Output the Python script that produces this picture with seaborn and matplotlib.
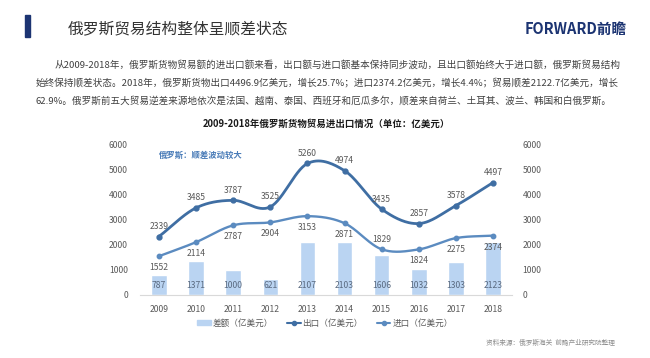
import numpy as np
import pandas as pd
import matplotlib.pyplot as plt
import seaborn as sns
from matplotlib.patches import Patch, Rectangle
from matplotlib.lines import Line2D

# data (亿美元)
years = ["2009", "2010", "2011", "2012", "2013", "2014", "2015", "2016", "2017", "2018"]
export_vals = [2339, 3485, 3787, 3525, 5260, 4974, 3435, 2857, 3578, 4497]
import_vals = [1552, 2114, 2787, 2904, 3153, 2871, 1829, 1824, 2275, 2374]
balance_vals = [787, 1371, 1000, 621, 2107, 2103, 1606, 1032, 1303, 2123]
y_ticks = [0, 1000, 2000, 3000, 4000, 5000, 6000]

header_title = "俄罗斯贸易结构整体呈顺差状态"
para_lines = [
    "从2009-2018年，俄罗斯货物贸易额的进出口额来看，出口额与进口额基本保持同步波动，且出口额始终大于进口额，俄罗斯贸易结构",
    "始终保持顺差状态。2018年，俄罗斯货物出口4496.9亿美元，增长25.7%；进口2374.2亿美元，增长4.4%；贸易顺差2122.7亿美元，增长",
    "62.9%。俄罗斯前五大贸易逆差来源地依次是法国、越南、泰国、西班牙和厄瓜多尔，顺差来自荷兰、土耳其、波兰、韩国和白俄罗斯。",
]
chart_title = "2009-2018年俄罗斯货物贸易进出口情况（单位：亿美元）"
note = "俄罗斯：顺差波动较大"
source = "资料来源：俄罗斯海关  前瞻产业研究院整理"

df = pd.DataFrame({"year": years, "export": export_vals,
                   "import": import_vals, "balance": balance_vals})

sns.set_theme(style="white")
plt.rcParams['font.family'] = ['Noto Sans CJK SC', 'DejaVu Sans']

EXP_C = "#3f6ea3"
IMP_C = "#5b8bc0"
BAR_C = "#bad4f2"
TXT_C = "#595959"


def smooth(vals, n=30):
    # catmull-rom style curve through the points (drawing only)
    y = np.asarray(vals, dtype=float)
    m = np.zeros_like(y)
    m[1:-1] = (y[2:] - y[:-2]) / 2
    m[0] = y[1] - y[0]
    m[-1] = y[-1] - y[-2]
    xs, ys = [], []
    for i in range(len(y) - 1):
        t = np.linspace(0, 1, n, endpoint=False)
        h00 = 2 * t**3 - 3 * t**2 + 1
        h10 = t**3 - 2 * t**2 + t
        h01 = -2 * t**3 + 3 * t**2
        h11 = t**3 - t**2
        xs.append(i + t)
        ys.append(h00 * y[i] + h10 * m[i] + h01 * y[i + 1] + h11 * m[i + 1])
    xs.append([len(y) - 1])
    ys.append([y[-1]])
    return np.concatenate(xs), np.concatenate(ys)


fig = plt.figure(figsize=(6.5, 3.58), dpi=100)
ax = fig.add_axes([0.216, 0.176, 0.571, 0.419])

sns.barplot(data=df, x="year", y="balance", color=BAR_C, width=0.42,
            saturation=1, ax=ax)

xe, ye = smooth(export_vals)
ax.plot(xe, ye, color=EXP_C, lw=2.0, zorder=3)
ax.plot(range(len(years)), export_vals, 'o', color=EXP_C, ms=3.5, zorder=4)
xi, yi = smooth(import_vals)
ax.plot(xi, yi, color=IMP_C, lw=1.7, zorder=3)
ax.plot(range(len(years)), import_vals, 'o', color=IMP_C, ms=3.2, zorder=4)

for i in range(len(years)):
    ax.annotate(str(export_vals[i]), (i, export_vals[i]), xytext=(0, 4),
                textcoords="offset points", ha="center", va="bottom",
                fontsize=6.2, color=TXT_C)
    above = i == 6  # 2015 label sits above its point
    ax.annotate(str(import_vals[i]), (i, import_vals[i]),
                xytext=(0, 4) if above else (0, -5),
                textcoords="offset points", ha="center",
                va="bottom" if above else "top", fontsize=6.2, color=TXT_C)
    ax.text(i, 360, str(balance_vals[i]), ha="center", va="center",
            fontsize=6.2, color="#5a6a80")

ax.set_xlim(-0.5, len(years) - 0.5)
ax.set_ylim(0, 6000)
ax.set_yticks(y_ticks)
ax.set_xlabel("")
ax.set_ylabel("")
ax.tick_params(axis="both", length=0, labelsize=6.2, labelcolor=TXT_C)
ax.tick_params(axis="y", pad=9)
ax.tick_params(axis="x", pad=7)
for s in ["top", "right", "left"]:
    ax.spines[s].set_visible(False)
ax.spines["bottom"].set_color("#d9d9d9")
ax.spines["bottom"].set_linewidth(0.8)

ax2 = ax.twinx()
ax2.set_ylim(0, 6000)
ax2.set_yticks(y_ticks)
ax2.tick_params(axis="y", length=0, labelsize=6.2, labelcolor=TXT_C, pad=8)
for s in ax2.spines.values():
    s.set_visible(False)
ax2.grid(False)

ax.text(0.05, 0.93, note, transform=ax.transAxes, fontsize=6, color="#4a7cb8",
        fontweight="bold", va="center")

fig.text(326 / 650, 1 - 124 / 358, chart_title, ha="center", va="center",
         fontsize=6.8, fontweight="bold", color="#1a1a1a")

handles = [Patch(color=BAR_C),
           Line2D([], [], color=EXP_C, lw=1.5, marker="o", ms=3),
           Line2D([], [], color=IMP_C, lw=1.5, marker="o", ms=3)]
labels = ["差额（亿美元）", "出口（亿美元）", "进口（亿美元）"]
fig.legend(handles, labels, loc="center", bbox_to_anchor=(325 / 650, 1 - 323 / 358),
           ncol=3, frameon=False, fontsize=6.2, labelcolor=TXT_C,
           handlelength=1.6, handleheight=0.5, handletextpad=0.2, columnspacing=1.6)

fig.text(615 / 650, 1 - 343 / 358, source, ha="right", va="center",
         fontsize=4.8, color="#8c8c8c")

# header
fig.add_artist(Rectangle((25 / 650, 1 - 37 / 358), 5 / 650, 22 / 358,
                         transform=fig.transFigure, color="#1c3472"))
fig.text(68 / 650, 1 - 29 / 358, header_title, ha="left", va="center",
         fontsize=11.3, color="#333333")
fig.text(627 / 650, 1 - 29 / 358, "FORWARD前瞻", ha="right", va="center",
         fontsize=10.5, fontweight="bold", color="#1c3472")

para_y = [65, 83, 101]
para_x = [55, 36, 36]
for line, px, py in zip(para_lines, para_x, para_y):
    fig.text(px / 650, 1 - py / 358, line, ha="left", va="center",
             fontsize=6.9, color="#404040")

fig.savefig("out.png", dpi=100)
